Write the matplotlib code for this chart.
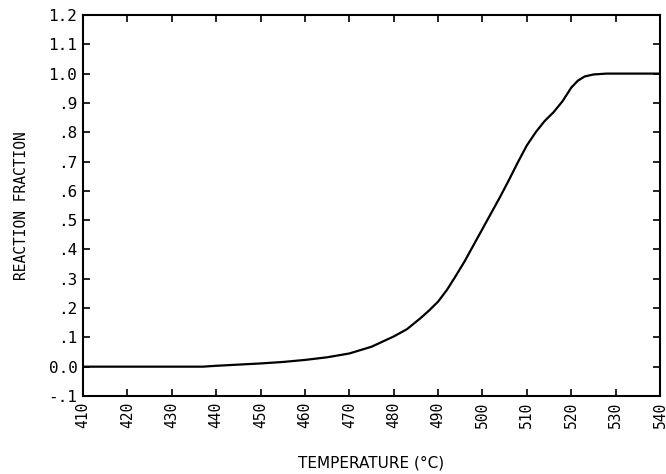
import matplotlib
matplotlib.use('Agg')
import matplotlib.pyplot as plt

# values
temps = [410, 420, 430, 437, 440, 445, 450, 455, 460, 465, 470, 475, 480,
         483, 486, 488, 490, 492, 494, 496, 498, 500, 502, 504, 506, 508,
         510, 512, 514, 516, 518, 520, 521.5, 523, 525, 528, 540]
frac = [0.0, 0.0, 0.0, 0.0, 0.003, 0.007, 0.011, 0.016, 0.023, 0.032, 0.045,
        0.068, 0.103, 0.128, 0.165, 0.192, 0.222, 0.262, 0.31, 0.36, 0.415,
        0.47, 0.525, 0.58, 0.638, 0.698, 0.755, 0.80, 0.838, 0.868, 0.905,
        0.952, 0.976, 0.99, 0.997, 1.0, 1.0]

xticks = list(range(410, 541, 10))
yticks = [-0.1, 0.0, 0.1, 0.2, 0.3, 0.4, 0.5, 0.6, 0.7, 0.8, 0.9, 1.0, 1.1, 1.2]
ylabels = ['-.1', '0.0', '.1', '.2', '.3', '.4', '.5', '.6', '.7', '.8', '.9',
           '1.0', '1.1', '1.2']

fig = plt.figure(figsize=(6.66, 4.74), dpi=100)
ax = fig.add_axes([0.1246, 0.1646, 0.8664, 0.8038])

ax.plot(temps, frac, color='black', lw=1.6, solid_joinstyle='round')

ax.set_xlim(410, 540)
ax.set_ylim(-0.1, 1.2)
ax.set_xticks(xticks)
ax.set_xticklabels([str(t) for t in xticks], rotation=90,
                   family='DejaVu Sans Mono', fontsize=10.5)
ax.set_yticks(yticks)
ax.set_yticklabels(ylabels, family='DejaVu Sans Mono', fontsize=11.5)

ax.tick_params(direction='in', length=5, width=1.2, top=True, right=True,
               pad=4, colors='black')
for s in ax.spines.values():
    s.set_linewidth(1.5)

ax.set_ylabel('REACTION FRACTION', family='DejaVu Sans Mono', fontsize=10.5,
              labelpad=14)
ax.set_xlabel('TEMPERATURE (\u00b0C)', family='DejaVu Sans', fontsize=11,
              labelpad=20)

fig.savefig('out.png', dpi=100)
